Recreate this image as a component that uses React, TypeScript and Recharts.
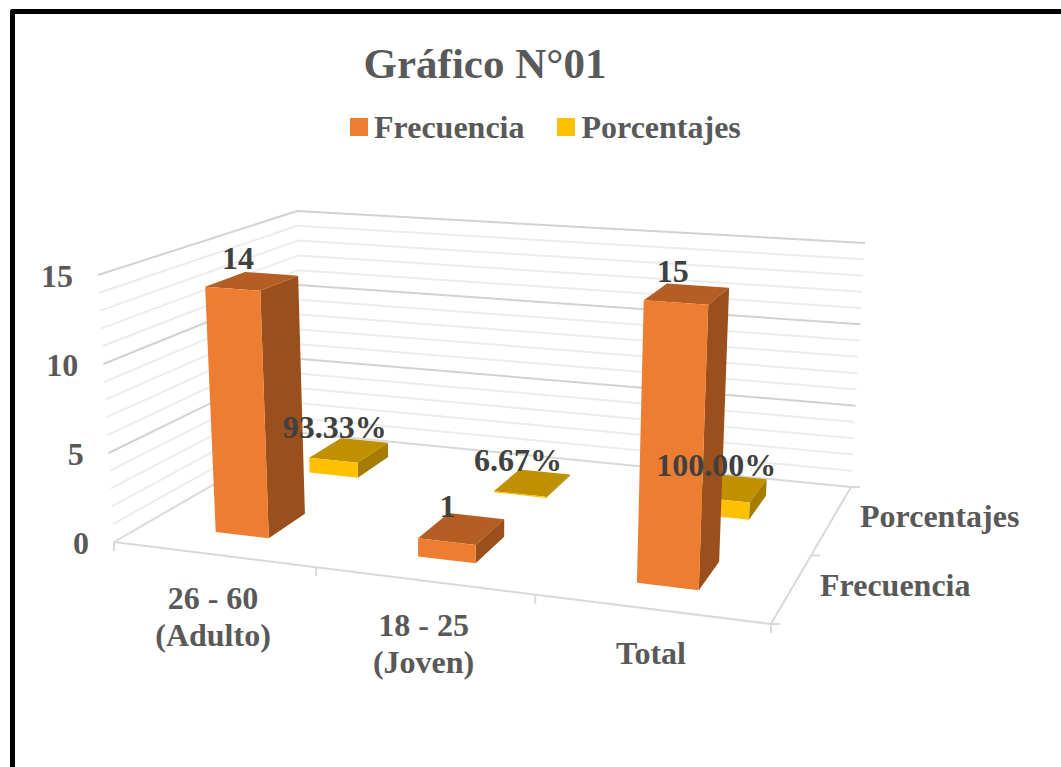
import { BarChart, Bar, XAxis, YAxis, Legend, LabelList } from "recharts"

const categories = ["26 - 60 (Adulto)", "18 - 25 (Joven)", "Total"]
const frecuencia = [14, 1, 15]
const porcentajes = [0.9333, 0.0667, 1]
const yTicks = [0, 5, 10, 15]
const yMinorTicks = [1, 2, 3, 4, 6, 7, 8, 9, 11, 12, 13, 14]
const yMax = 15

const chartData = categories.map((name, i) => ({
  name,
  frecuencia: frecuencia[i],
  porcentajes: porcentajes[i],
}))

const CHART_W = 1061
const CHART_H = 767
const PLOT = { left: 100, top: 100, width: 800, height: 500 }
const BAR_SIZE = 72
const FONT = '"Liberation Serif", serif'
const FONT_SIZE = 32
const GREY = "#595959"
const DARK = "#404040"

// esquinas de la caja 3D en pantalla
const FLOOR = { a: [114, 542], b: [771, 624], c: [303, 433], d: [851, 487] }
const TOP = { a: [98, 275], b: [784, 325], c: [297, 211], d: [865, 243] }

const DEPTH_FREC: [number, number] = [0.17, 0.385]
const DEPTH_PORC: [number, number] = [0.7, 0.88]

const mix = (p: number[], q: number[], t: number) => [p[0] + (q[0] - p[0]) * t, p[1] + (q[1] - p[1]) * t]

// u: 0-1 a lo ancho, d: 0-1 en profundidad, h: 0-1 en altura
function project(u: number, d: number, h: number) {
  const w = u - 0.115 * u * (1 - u)
  const bottom = mix(mix(FLOOR.a, FLOOR.b, w), mix(FLOOR.c, FLOOR.d, w), d)
  const top = mix(mix(TOP.a, TOP.b, w), mix(TOP.c, TOP.d, w), d)
  return mix(bottom, top, h)
}

const toU = (x: number) => (x - PLOT.left) / PLOT.width
const toH = (y: number) => 1 - (y - PLOT.top) / PLOT.height
const pts = (list: number[][]) => list.map(p => `${p[0]},${p[1]}`).join(" ")

function seg(p: number[], q: number[], stroke: string, key: string, width = 2) {
  return <line key={key} x1={p[0]} y1={p[1]} x2={q[0]} y2={q[1]} stroke={stroke} strokeWidth={width} />
}

function Walls() {
  const lines = (v: number, stroke: string) => {
    const h = v / yMax
    const corner = project(0, 1, h)
    return [
      seg(project(0, 0, h), corner, stroke, `l${v}`),
      seg(corner, project(1, 1, h), stroke, `b${v}`),
    ]
  }
  const floorLine = "#d9d9d9"
  const xMarks = [0, 1, 2, 3].map(i => {
    const p = project(i / categories.length, 0, 0)
    return seg(p, [p[0], p[1] + 9], floorLine, `xt${i}`)
  })
  const depthMarks = [0, 0.5, 1].map(d => {
    const p = project(1, d, 0)
    return seg(p, [p[0] + 9, p[1]], floorLine, `dt${d}`)
  })
  return (
    <g>
      {yMinorTicks.map(v => lines(v, "#ececec"))}
      {yTicks.filter(v => v > 0).map(v => lines(v, "#d2d2d2"))}
      {lines(0, floorLine)}
      {seg(project(0, 0, 0), project(1, 0, 0), floorLine, "front")}
      {seg(project(1, 0, 0), project(1, 1, 0), floorLine, "right")}
      {xMarks}
      {depthMarks}
    </g>
  )
}

function DepthLabels() {
  const rows = [
    { name: "Frecuencia", d: 0.25 },
    { name: "Porcentajes", d: 0.75 },
  ]
  return (
    <g>
      {rows.map(r => {
        const p = project(1, r.d, 0)
        return (
          <text key={r.name} x={p[0] + 29} y={p[1] + 6} fontFamily={FONT} fontWeight="bold" fontSize={FONT_SIZE} fill={GREY}>
            {r.name}
          </text>
        )
      })}
    </g>
  )
}

function makeBox(depth: [number, number], front: string, top: string, side: string) {
  return (props: any) => {
    const { x, y, width, height } = props
    const u0 = toU(x)
    const u1 = toU(x + width)
    const h = toH(y)
    const base = toH(y + height)
    const [d0, d1] = depth
    return (
      <g>
        <polygon points={pts([project(u0, d0, h), project(u1, d0, h), project(u1, d1, h), project(u0, d1, h)])} fill={top} />
        <polygon points={pts([project(u1, d0, base), project(u1, d1, base), project(u1, d1, h), project(u1, d0, h)])} fill={side} />
        <polygon points={pts([project(u0, d0, base), project(u1, d0, base), project(u1, d0, h), project(u0, d0, h)])} fill={front} />
      </g>
    )
  }
}

function makeLabel(depth: [number, number], format: (v: number) => string) {
  return (props: any) => {
    const box = props.viewBox ?? props
    const u = toU(box.x + box.width / 2)
    const p = project(u, (depth[0] + depth[1]) / 2, toH(box.y))
    return (
      <text x={p[0] - 14} y={p[1] - 12} textAnchor="middle" fontFamily={FONT} fontWeight="bold" fontSize={FONT_SIZE} fill={DARK}>
        {format(Number(props.value))}
      </text>
    )
  }
}

function CategoryTick(props: any) {
  const { x, payload } = props
  const p = project(toU(x), 0, 0)
  const parts = String(payload.value).split(/ (?=\()/)
  return (
    <text textAnchor="middle" fontFamily={FONT} fontWeight="bold" fontSize={FONT_SIZE} fill={GREY}>
      {parts.map((part, i) => (
        <tspan key={part} x={p[0]} y={p[1] + 55 + i * 37}>{part}</tspan>
      ))}
    </text>
  )
}

function ValueTick(props: any) {
  const { y, payload } = props
  const p = project(0, 0, toH(y))
  return (
    <text x={p[0] - 25} y={p[1] + 12} textAnchor="end" fontFamily={FONT} fontWeight="bold" fontSize={FONT_SIZE} fill={GREY}>
      {payload.value}
    </text>
  )
}

function LegendBlock(props: any) {
  const items = props.payload ?? []
  return (
    <div style={{ display: "flex", alignItems: "center", fontFamily: FONT, fontWeight: "bold", fontSize: FONT_SIZE, color: GREY, lineHeight: "36px" }}>
      {items.map((item: any, i: number) => (
        <div key={item.value} style={{ display: "flex", alignItems: "center", marginRight: i === 0 ? 33 : 0 }}>
          <span style={{ width: 18, height: 18, background: item.color, marginRight: 6, display: "inline-block" }} />
          {item.value}
        </div>
      ))}
    </div>
  )
}

export default function App() {
  return (
    <div style={{ position: "absolute", left: 0, top: 0, width: CHART_W, height: CHART_H, overflow: "hidden", background: "#fff" }}>
      <div
        style={{
          position: "absolute",
          left: 10,
          top: 9,
          width: CHART_W,
          height: CHART_H,
          borderLeft: "5px solid #000",
          borderTop: "5px solid #000",
          borderTopLeftRadius: 3,
        }}
      />
      <div style={{ position: "absolute", left: 0, top: 0 }}>
        <BarChart
          width={CHART_W}
          height={CHART_H}
          data={chartData}
          barSize={BAR_SIZE}
          barGap={-BAR_SIZE}
          margin={{
            top: PLOT.top,
            left: PLOT.left - 1,
            right: CHART_W - PLOT.left - PLOT.width,
            bottom: CHART_H - PLOT.top - PLOT.height - 1,
          }}
        >
          <Walls />
          <text x={485} y={78} textAnchor="middle" fontFamily={FONT} fontWeight="bold" fontSize={43} fill={GREY}>
            Gráfico N°01
          </text>
          <XAxis dataKey="name" height={1} interval={0} axisLine={false} tickLine={false} tick={CategoryTick} />
          <YAxis domain={[0, yMax]} ticks={yTicks} width={1} axisLine={false} tickLine={false} tick={ValueTick} />
          <Legend
            layout="horizontal"
            verticalAlign="middle"
            align="center"
            content={LegendBlock}
            wrapperStyle={{ position: "absolute", left: 350, top: 109, width: "auto" }}
          />
          <Bar
            dataKey="porcentajes"
            name="Porcentajes"
            fill="#FFC000"
            isAnimationActive={false}
            shape={makeBox(DEPTH_PORC, "#FFC000", "#C09000", "#A67C00")}
          >
            <LabelList dataKey="porcentajes" content={makeLabel(DEPTH_PORC, v => `${(v * 100).toFixed(2)}%`)} />
          </Bar>
          <Bar
            dataKey="frecuencia"
            name="Frecuencia"
            fill="#ED7D31"
            isAnimationActive={false}
            shape={makeBox(DEPTH_FREC, "#ED7D31", "#B55E24", "#9A4F1C")}
          >
            <LabelList dataKey="frecuencia" content={makeLabel(DEPTH_FREC, v => String(v))} />
          </Bar>
          <DepthLabels />
        </BarChart>
      </div>
    </div>
  )
}
